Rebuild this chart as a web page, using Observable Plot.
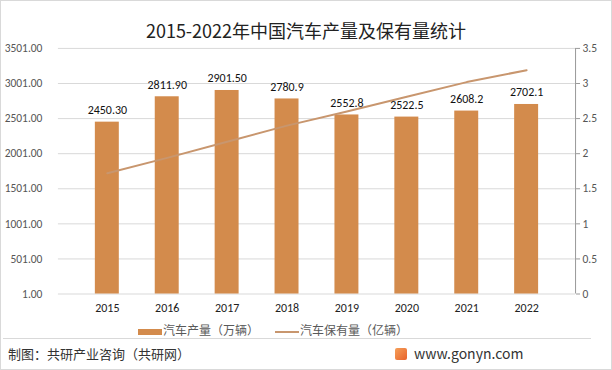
<!DOCTYPE html>
<html><head><meta charset="utf-8">
<script src="https://cdn.jsdelivr.net/npm/d3@7"></script>
<script src="https://cdn.jsdelivr.net/npm/@observablehq/plot@0.6"></script>
<style>
html,body{margin:0;padding:0;background:#fff;}
#wrap{position:relative;width:610px;height:368px;border:1px solid #d9d9d9;font-family:"Microsoft YaHei","Noto Sans CJK SC",sans-serif;overflow:hidden;}
#title{position:absolute;left:0;width:610px;top:16px;text-align:center;font-size:18px;color:#222;font-family:"Noto Sans CJK SC",sans-serif;}
#chart{position:absolute;left:-1px;top:-1px;}
#legend{position:absolute;top:320px;left:0;width:610px;font-size:12px;color:#595959;font-family:"Noto Sans CJK SC",sans-serif;}
#legend .item{position:absolute;top:0;white-space:nowrap;}
#legend .sw{display:inline-block;vertical-align:middle;margin-right:1px;}
#sep{position:absolute;left:2px;width:588px;top:337px;height:1px;background:#d9d9d9;}
#foot{position:absolute;left:7px;top:343px;font-size:13px;color:#333;font-family:"Noto Sans CJK SC",sans-serif;}
#site{position:absolute;left:394px;top:342px;font-size:14px;color:#333;font-family:"Noto Sans CJK SC",sans-serif;}
#site .logo{display:inline-block;width:12px;height:12px;background:linear-gradient(135deg,#f5a05a,#e8622a);border-radius:2px;vertical-align:-1px;margin-right:7px;}
</style></head>
<body>
<div id="wrap">
<div id="chart"></div>
<div id="title">2015-2022年中国汽车产量及保有量统计</div>
<div id="legend">
 <span class="item" style="left:137px"><span class="sw" style="width:24px;height:6px;background:#D38B4C"></span>汽车产量（万辆）</span>
 <span class="item" style="left:274px"><span class="sw" style="width:24px;height:2px;background:#C8966E"></span>汽车保有量（亿辆）</span>
</div>
<div id="sep"></div>
<div id="foot">制图：共研产业咨询（共研网）</div>
<div id="site"><span class="logo"></span>www.gonyn.com</div>
</div>
<script>
const years = ["2015","2016","2017","2018","2019","2020","2021","2022"];
const production = [2450.30, 2811.90, 2901.50, 2780.9, 2552.8, 2522.5, 2608.2, 2702.1];
const productionLabels = ["2450.30","2811.90","2901.50","2780.9","2552.8","2522.5","2608.2","2702.1"];
const stock = [1.72, 1.94, 2.17, 2.40, 2.60, 2.81, 3.02, 3.19];
const leftTicks = [1, 501, 1001, 1501, 2001, 2501, 3001, 3501];
const rightTicks = [0, 0.5, 1, 1.5, 2, 2.5, 3, 3.5];

// right axis (0–3.5) mapped onto left scale (1–3501)
const toLeft = v => 1 + v * 1000;
const bars = years.map((y, i) => ({year: y, value: production[i], label: productionLabels[i]}));
const line = years.map((y, i) => ({year: y, value: toLeft(stock[i])}));

const chart = Plot.plot({
  width: 612, height: 320,
  marginTop: 48, marginBottom: 26, marginLeft: 58, marginRight: 36,
  style: {fontFamily: "Calibri, Carlito, 'Liberation Sans', sans-serif", fontSize: "11px", color: "#333", background: "transparent"},
  x: {domain: years, padding: 0.6, label: null},
  y: {domain: [1, 3501], label: null},
  marks: [
    Plot.gridY(leftTicks.slice(1), {stroke: "#d9d9d9", strokeOpacity: 1}),
    Plot.ruleY([1], {stroke: "#d9d9d9"}),
    Plot.barY(bars, {x: "year", y1: 1, y2: "value", fill: "#D38B4C"}),
    Plot.lineY(line, {x: "year", y: "value", stroke: "#C8966E", strokeWidth: 2}),
    Plot.text(bars, {x: "year", y: "value", text: "label", dy: -12, fontSize: 12, fill: "#111"}),
    Plot.axisY(leftTicks, {anchor: "left", tickSize: 0, tickPadding: 16, tickFormat: d => d.toFixed(2), fill: "#555", fontSize: 11.5, label: null}),
    Plot.axisY(rightTicks.map(toLeft), {anchor: "right", tickSize: 4, tickPadding: 3, stroke: "#999", tickFormat: (d, i) => String(rightTicks[i]), fill: "#555", fontSize: 11.5, label: null}),
    Plot.axisX({tickSize: 0, tickPadding: 9, fill: "#222", fontSize: 12, label: null})
  ]
});
document.getElementById("chart").appendChild(chart);
// vertical right axis line
const svg = d3.select(chart);
svg.append("line").attr("x1", 576.5).attr("x2", 576.5).attr("y1", 48).attr("y2", 294).attr("stroke", "#999");
</script>
</body></html>
